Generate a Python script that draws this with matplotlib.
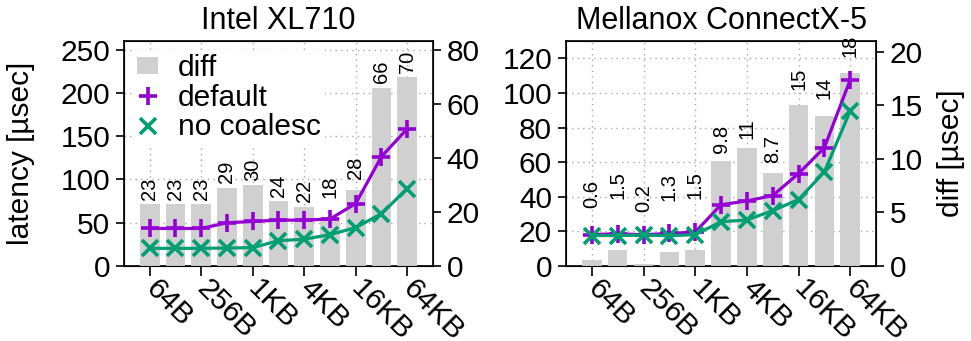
#!/usr/bin/env python3

import matplotlib
matplotlib.use('Agg')
import matplotlib.pyplot as plt
from matplotlib.lines import Line2D
from matplotlib.patches import Patch

# message sizes (only every other one gets a tick label)
sizes = ['64B', '128B', '256B', '512B', '1KB', '2KB', '4KB', '8KB', '16KB', '32KB', '64KB']

# Intel XL710
intel_default = [43.4, 43.4, 43.4, 50.0, 51.5, 53.0, 53.0, 54.3, 72.2, 126.5, 158.5]
intel_nocoal = [20.4, 20.4, 20.4, 20.8, 21.3, 29.2, 31.0, 36.2, 44.4, 60.5, 89.5]
intel_diff = [23, 23, 23, 29, 30, 24, 22, 18, 28, 66, 70]

# Mellanox ConnectX-5
mlx_default = [18.2, 18.6, 18.1, 18.8, 19.6, 35.4, 37.6, 40.7, 53.4, 68.4, 107.6]
mlx_nocoal = [17.6, 17.6, 17.9, 17.5, 18.1, 25.6, 26.6, 32.0, 38.4, 54.4, 89.6]
mlx_diff = [0.6, 1.5, 0.2, 1.3, 1.5, 9.8, 11, 8.7, 15, 14, 18]

# how far each value label sits above its bar (points)
intel_lift = [3, 3, 3, 3, 3, 3, 3, 14, 8, 3, 3]
mlx_lift = [37, 37, 37, 37, 37, 6, 6.5, 7, 11, 12, 11.5]

PURPLE = '#9400D3'
GREEN = '#009E73'
GRAY = '#D0D0D0'
FS = 21.5

plt.rcParams['font.family'] = ['Liberation Sans', 'DejaVu Sans']
plt.rcParams['font.size'] = FS


def panel(fig, rect, title, default, nocoal, diff, lift, ylim, y2lim, yticks, y2ticks):
    host = fig.add_axes(rect)
    bars = host.twinx()
    lines = host.twinx()

    x = list(range(len(sizes)))

    # grid behind everything
    host.set_xlim(-1, len(sizes))
    host.set_ylim(*ylim)
    host.set_yticks(yticks)
    host.set_xticks(x[::2])
    host.set_xticklabels(sizes[::2], rotation=-45, ha='left', va='center',
                         rotation_mode='anchor')
    host.grid(True, color='#a8a8a8', linestyle=(0, (1, 3)), linewidth=1.0)
    host.tick_params(direction='out', length=6, width=1.2, labelsize=FS, pad=4)
    host.tick_params(axis='x', length=7, pad=6)
    for s in host.spines.values():
        s.set_linewidth(1.2)

    bars.bar(x, diff, width=0.76, color=GRAY, zorder=2)
    bars.set_ylim(*y2lim)
    bars.set_yticks(y2ticks)
    bars.tick_params(direction='out', length=6, width=1.2, labelsize=FS, pad=4)
    for i, v in enumerate(diff):
        bars.annotate('%.2g' % v, (i, v), xytext=(0, lift[i]), textcoords='offset points',
                      rotation=90, ha='center', va='bottom', fontsize=14.5)

    lines.plot(x, default, color=PURPLE, lw=2.3, marker='+', ms=13, mew=2.6)
    lines.plot(x, nocoal, color=GREEN, lw=2.3, marker='x', ms=11, mew=2.6)
    lines.set_ylim(*ylim)
    lines.yaxis.set_visible(False)
    for s in lines.spines.values():
        s.set_visible(False)

    host.set_title(title, fontsize=FS + 0.5, pad=9)
    return host, bars, lines


def main():
    fig = plt.figure(figsize=(9.71, 3.41), dpi=100)

    h1, b1, l1 = panel(fig, [0.1277, 0.2199, 0.3182, 0.6598], 'Intel XL710',
                       intel_default, intel_nocoal, intel_diff, intel_lift,
                       (0, 260), (0, 83.2), range(0, 251, 50), range(0, 81, 20))
    h1.set_ylabel('latency [µsec]', fontsize=FS, labelpad=18)

    handles = [Patch(facecolor=GRAY, edgecolor='none'),
               Line2D([], [], color=PURPLE, marker='+', ls='none', ms=13, mew=2.6),
               Line2D([], [], color=GREEN, marker='x', ls='none', ms=11, mew=2.6)]
    leg = l1.legend(handles, ['diff', 'default', 'no coalesc'], loc='upper left',
                    fontsize=FS, frameon=True, fancybox=False, framealpha=1,
                    edgecolor='white', facecolor='white', borderaxespad=0.3,
                    borderpad=0.15, labelspacing=0.05, handlelength=0.7,
                    handleheight=0.5, handletextpad=0.65)
    leg.get_frame().set_linewidth(0)

    h2, b2, l2 = panel(fig, [0.5829, 0.2199, 0.3193, 0.6598], 'Mellanox ConnectX-5',
                       mlx_default, mlx_nocoal, mlx_diff, mlx_lift,
                       (0, 130), (0, 21), range(0, 121, 20), range(0, 21, 5))
    b2.set_ylabel('diff [µsec]', fontsize=FS, labelpad=10)

    fig.savefig('out.png', dpi=100)


if __name__ == '__main__':
    main()
